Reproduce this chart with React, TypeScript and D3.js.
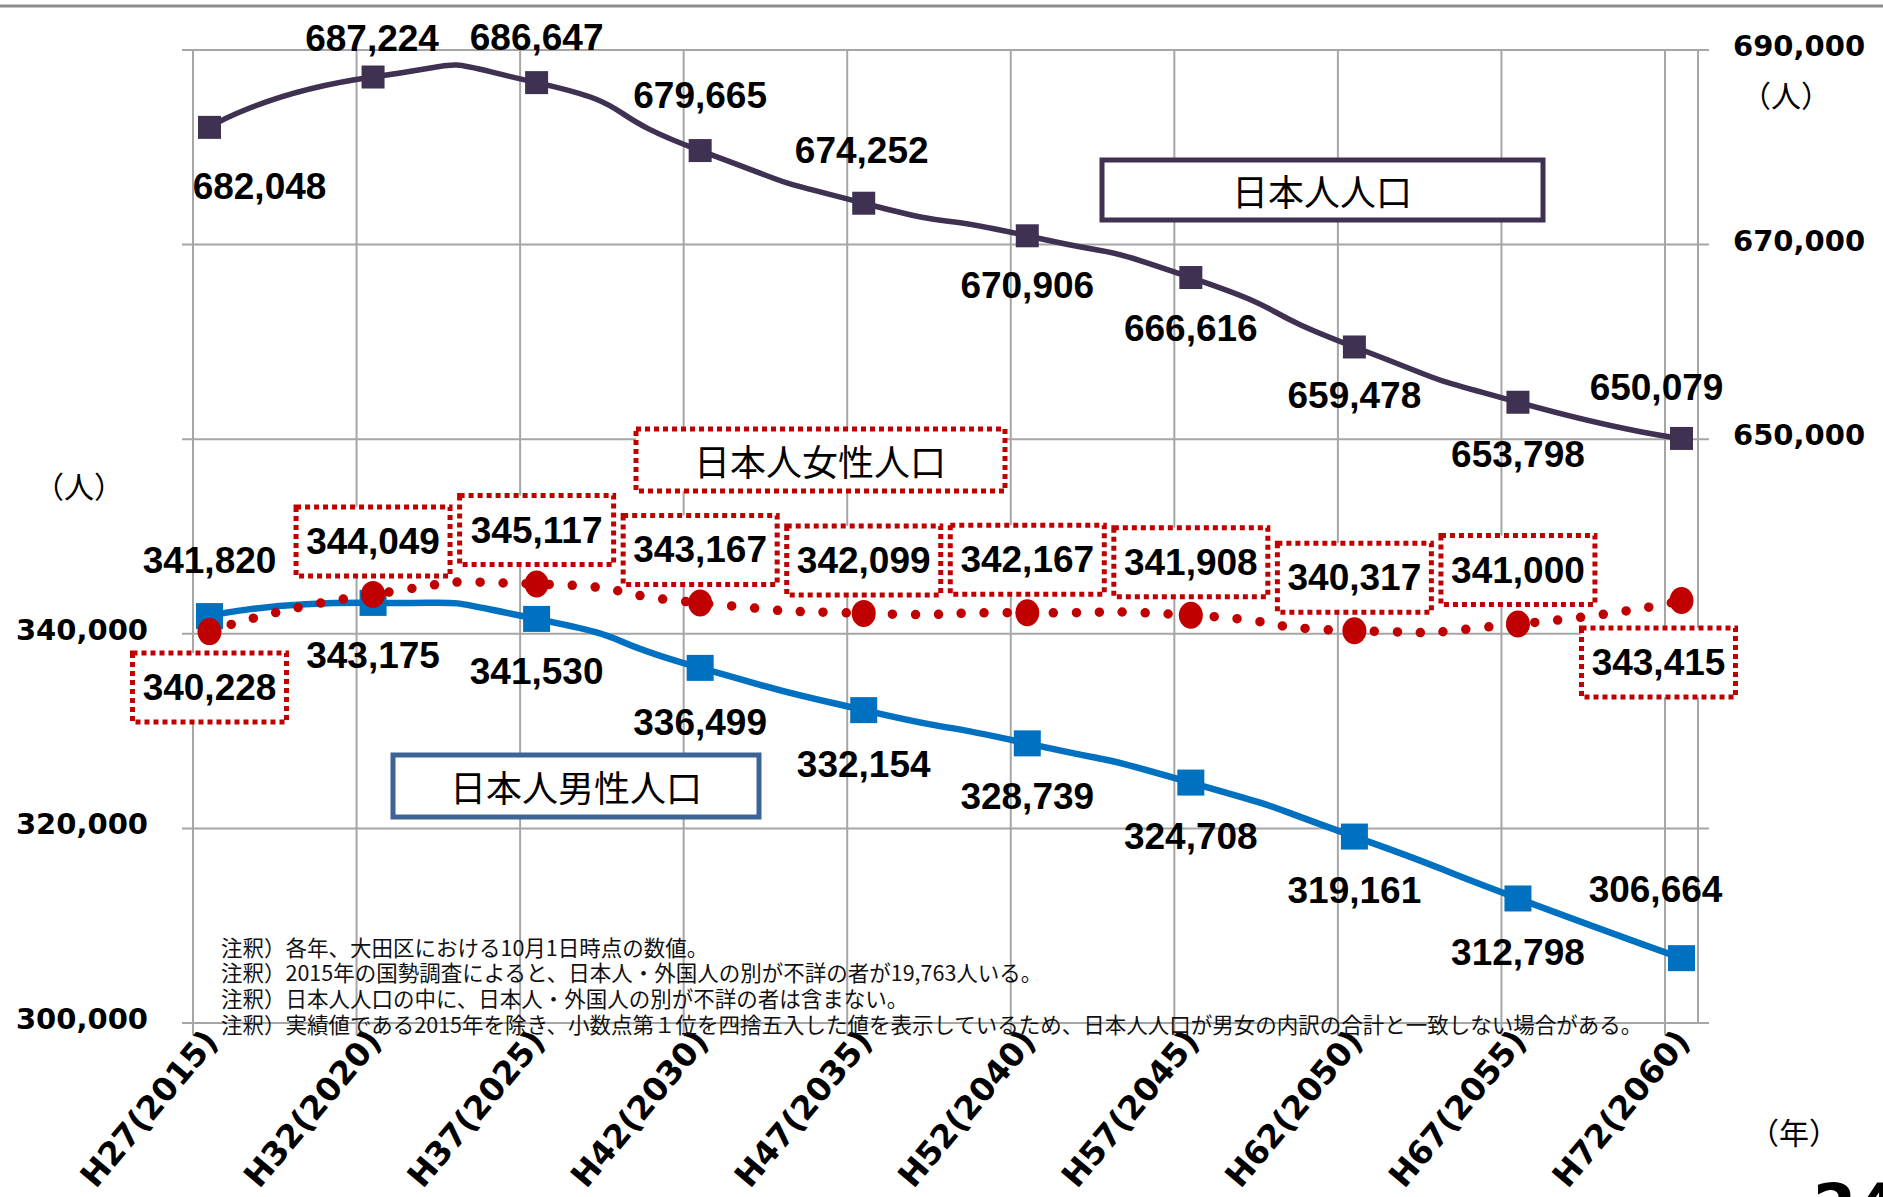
import React from "react";
import * as d3 from "d3";

// 年次（カテゴリ）
const categories = [
  "H27(2015)", "H32(2020)", "H37(2025)", "H42(2030)", "H47(2035)",
  "H52(2040)", "H57(2045)", "H62(2050)", "H67(2055)", "H72(2060)",
];
// 日本人人口（右軸）
const totalPop = [682048, 687224, 686647, 679665, 674252, 670906, 666616, 659478, 653798, 650079];
// 日本人男性人口（左軸）
const malePop = [341820, 343175, 341530, 336499, 332154, 328739, 324708, 319161, 312798, 306664];
// 日本人女性人口（左軸）
const femalePop = [340228, 344049, 345117, 343167, 342099, 342167, 341908, 340317, 341000, 343415];

const leftTicks = [300000, 320000, 340000, 360000, 380000, 400000];
const leftTickLabels = [300000, 320000, 340000];
const rightTickLabels = [650000, 670000, 690000];

const notes = [
  "注釈）各年、大田区における10月1日時点の数値。",
  "注釈）2015年の国勢調査によると、日本人・外国人の別が不詳の者が19,763人いる。",
  "注釈）日本人人口の中に、日本人・外国人の別が不詳の者は含まない。",
  "注釈）実績値である2015年を除き、小数点第１位を四捨五入した値を表示しているため、日本人人口が男女の内訳の合計と一致しない場合がある。",
];

// ラベル位置のずれ（点からの dx, dy）
const totalOffsets = [[50, 59], [-1, -39], [0, -45], [0, -55], [-2, -53], [0, 50], [0, 51], [0, 49], [0, 52], [-25, -51]];
const maleOffsets = [[0, -56], [0, 53], [0, 53], [0, 55], [0, 54], [0, 53], [0, 54], [0, 54], [0, 54], [-26, -69]];
const femaleOffsets = [[0, 56], [0, -53], [0, -54], [0, -53], [0, -53], [0, -53], [0, -53], [0, -53], [0, -54], [-23, 62]];

const W = 1883;
const H = 1197;
const top = 50;
const bottom = 1023;

const PURPLE = "#3F3151";
const BLUE = "#0070C0";
const RED = "#C00000";
const GRID = "#A6A6A6";

const numFont = "'Liberation Sans', Arial, sans-serif";
const tickFont = "'DejaVu Sans', Verdana, sans-serif";
const jpFont = "'Noto Sans CJK JP', sans-serif";

export default function App() {
  const x = d3.scalePoint<string>().domain(categories).range([209.5, 1681.5]);
  const yL = d3.scaleLinear().domain([300000, 400000]).range([bottom, top]);
  const yR = d3.scaleLinear().domain([590000, 690000]).range([bottom, top]);
  const fmt = d3.format(",");

  const curve = d3.curveCardinal.tension(-1);
  const totalLine = d3.line<number>().x((_, i) => x(categories[i])!).y((d) => yR(d)).curve(curve);
  const sexLine = d3.line<number>().x((_, i) => x(categories[i])!).y((d) => yL(d)).curve(curve);

  const vGrid = categories.map((c) => x(c)! - 16.5);

  return (
    <svg
      width={W}
      height={H}
      style={{ position: "absolute", left: 0, top: 0, background: "#fff" }}
    >
      <rect x={0} y={0} width={W} height={H} fill="#fff" />
      <line x1={0} x2={W} y1={6} y2={6} stroke="#8C8C8C" strokeWidth={3} />

      {/* grid */}
      {leftTicks.map((t) => (
        <line key={"h" + t} x1={182} x2={1709} y1={yL(t)} y2={yL(t)} stroke={GRID} strokeWidth={2} />
      ))}
      {vGrid.map((gx, i) => (
        <line key={"v" + i} x1={gx} x2={gx} y1={top} y2={bottom + 12} stroke={GRID} strokeWidth={2} />
      ))}
      <line x1={1698} x2={1698} y1={top} y2={bottom} stroke={GRID} strokeWidth={2} />

      {/* axis labels */}
      {leftTickLabels.map((t) => (
        <text key={"lt" + t} x={148} y={yL(t) - 4} textAnchor="end" dominantBaseline="central"
          fontFamily={tickFont} fontWeight="bold" fontSize={29} fill="#000">{fmt(t)}</text>
      ))}
      {rightTickLabels.map((t) => (
        <text key={"rt" + t} x={1733} y={yR(t) - 4} textAnchor="start" dominantBaseline="central"
          fontFamily={tickFont} fontWeight="bold" fontSize={29} fill="#000">{fmt(t)}</text>
      ))}
      <text x={1786} y={94} textAnchor="middle" dominantBaseline="central" fontFamily={jpFont} fontSize={30}>（人）</text>
      <text x={79} y={485} textAnchor="middle" dominantBaseline="central" fontFamily={jpFont} fontSize={30}>（人）</text>
      <text x={1794} y={1131} textAnchor="middle" dominantBaseline="central" fontFamily={jpFont} fontSize={30}>（年）</text>

      {categories.map((c) => (
        <text key={"x" + c} transform={`translate(${x(c)! + 10},${1042}) rotate(-50)`} textAnchor="end"
          fontFamily={tickFont} fontWeight="bold" fontSize={32.5} fill="#000">{c}</text>
      ))}

      {/* notes */}
      {notes.map((n, i) => (
        <text key={"n" + i} x={221} y={946 + i * 25.7} dominantBaseline="central" fontFamily={jpFont}
          fontSize={21.5} fill="#111">{n}</text>
      ))}

      {/* lines */}
      <path d={totalLine(totalPop)!} fill="none" stroke={PURPLE} strokeWidth={5.5} />
      {totalPop.map((v, i) => (
        <rect key={"tm" + i} x={x(categories[i])! - 11.5} y={yR(v) - 11.5} width={23} height={23} fill={PURPLE} />
      ))}
      <path d={sexLine(malePop)!} fill="none" stroke={BLUE} strokeWidth={6.5} />
      {malePop.map((v, i) => (
        <rect key={"mm" + i} x={x(categories[i])! - 13.5} y={yL(v) - 13} width={27} height={26} fill={BLUE} />
      ))}
      <path d={sexLine(femalePop)!} fill="none" stroke={RED} strokeWidth={9.5}
        strokeDasharray="0 23" strokeLinecap="round" />
      {femalePop.map((v, i) => (
        <ellipse key={"fm" + i} cx={x(categories[i])!} cy={yL(v)} rx={12} ry={13.5} fill={RED} />
      ))}

      {/* data labels */}
      {totalPop.map((v, i) => (
        <text key={"tl" + i} x={x(categories[i])! + totalOffsets[i][0]} y={yR(v) + totalOffsets[i][1]}
          textAnchor="middle" dominantBaseline="central" fontFamily={numFont} fontWeight="bold" fontSize={37}>{fmt(v)}</text>
      ))}
      {malePop.map((v, i) => (
        <text key={"ml" + i} x={x(categories[i])! + maleOffsets[i][0]} y={yL(v) + maleOffsets[i][1]}
          textAnchor="middle" dominantBaseline="central" fontFamily={numFont} fontWeight="bold" fontSize={37}>{fmt(v)}</text>
      ))}
      {femalePop.map((v, i) => {
        const cx = x(categories[i])! + femaleOffsets[i][0];
        const cy = yL(v) + femaleOffsets[i][1];
        return (
          <g key={"fl" + i}>
            <rect x={cx - 77} y={cy - 34.5} width={154} height={69} fill="#fff" stroke={RED}
              strokeWidth={5} strokeDasharray="5 4" />
            <text x={cx} y={cy} textAnchor="middle" dominantBaseline="central" fontFamily={numFont}
              fontWeight="bold" fontSize={37}>{fmt(v)}</text>
          </g>
        );
      })}

      {/* series names */}
      <rect x={1102} y={160} width={441} height={60} fill="#fff" stroke={PURPLE} strokeWidth={5} />
      <text x={1322} y={190} textAnchor="middle" dominantBaseline="central" fontFamily={jpFont} fontSize={36}>日本人人口</text>
      <rect x={636} y={429} width={369} height={62} fill="#fff" stroke={RED} strokeWidth={5} strokeDasharray="5 4" />
      <text x={820} y={460} textAnchor="middle" dominantBaseline="central" fontFamily={jpFont} fontSize={36}>日本人女性人口</text>
      <rect x={393} y={755} width={366} height={62} fill="#fff" stroke="#3C6496" strokeWidth={5} />
      <text x={576} y={786} textAnchor="middle" dominantBaseline="central" fontFamily={jpFont} fontSize={36}>日本人男性人口</text>

      <text x={1813} y={1228} fontFamily={tickFont} fontWeight="bold" fontSize={62} fill="#000">24</text>
    </svg>
  );
}
